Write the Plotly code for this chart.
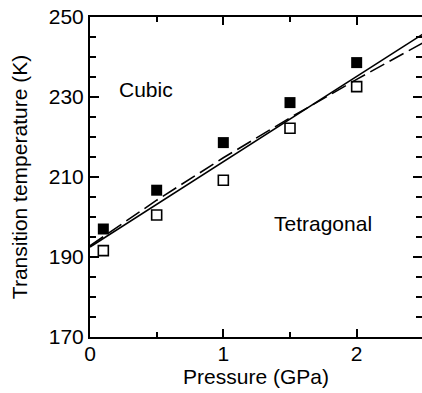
import plotly.graph_objects as go

# Data
pressure_pts = [0.1, 0.5, 1.0, 1.5, 2.0]
t_filled = [197.0, 206.7, 218.6, 228.6, 238.6]
t_open = [191.6, 200.5, 209.2, 222.2, 232.6]

solid_x = [0.0, 2.5]
solid_t = [192.5, 245.8]

dash_x = [0.0, 0.5, 1.0, 1.5, 2.0, 2.5]
dash_t = [192.8, 204.2, 214.8, 224.8, 234.4, 243.6]

x_ticks = [0, 1, 2]
y_ticks = [170, 190, 210, 230, 250]

FONT = "Liberation Sans, Arial, Helvetica, sans-serif"

fig = go.Figure()
fig.add_trace(go.Scatter(x=solid_x, y=solid_t, mode="lines",
                         line=dict(color="black", width=1.6), showlegend=False))
fig.add_trace(go.Scatter(x=dash_x, y=dash_t, mode="lines",
                         line=dict(color="black", width=1.6, dash="16px,6px"), showlegend=False))
fig.add_trace(go.Scatter(x=pressure_pts, y=t_filled, mode="markers",
                         marker=dict(symbol="square", size=11, color="black",
                                     line=dict(width=0)), showlegend=False))
fig.add_trace(go.Scatter(x=pressure_pts, y=t_open, mode="markers",
                         marker=dict(symbol="square-open", size=10, color="black",
                                     line=dict(width=1.6, color="black")), showlegend=False))

fig.add_annotation(x=0.42, y=231.9, text="Cubic", showarrow=False,
                   font=dict(size=21, color="black", family=FONT))
fig.add_annotation(x=1.744, y=198.4, text="Tetragonal", showarrow=False,
                   font=dict(size=21, color="black", family=FONT))

fig.update_layout(
    width=422, height=393,
    margin=dict(l=90, r=0, t=17, b=56),
    paper_bgcolor="white", plot_bgcolor="white",
    font=dict(family=FONT, size=21, color="black"),
    xaxis=dict(range=[0, 2.49], tickvals=x_ticks, ticktext=[str(v) for v in x_ticks],
               showline=True, linewidth=2, linecolor="black", mirror="ticks",
               ticks="inside", ticklen=8, tickwidth=1.5, tickcolor="black",
               minor=dict(dtick=0.5, tick0=0, ticks="inside", ticklen=5, tickwidth=1.5, tickcolor="black"),
               showgrid=False, zeroline=False,
               tickfont=dict(size=21, color="black"), ticklabelstandoff=-3,
               title=dict(text="Pressure (GPa)", font=dict(size=21, color="black"), standoff=2)),
    yaxis=dict(range=[170, 250], tickvals=y_ticks, ticktext=[str(v) for v in y_ticks],
               showline=True, linewidth=2, linecolor="black", mirror=False,
               ticks="inside", ticklen=9, tickwidth=1.5, tickcolor="black",
               minor=dict(dtick=5, tick0=170, ticks="inside", ticklen=6, tickwidth=1.5, tickcolor="black"),
               showgrid=False, zeroline=False,
               tickfont=dict(size=21, color="black"),
               title=dict(text="Transition temperature (K)", font=dict(size=21, color="black"), standoff=15)),
    yaxis2=dict(range=[170, 250], overlaying="y", side="right", tickvals=y_ticks,
                showticklabels=False, showline=False,
                ticks="inside", ticklen=9, tickwidth=1.5, tickcolor="black",
                minor=dict(dtick=5, tick0=170, ticks="inside", ticklen=6, tickwidth=1.5, tickcolor="black"),
                showgrid=False, zeroline=False),
)
# invisible trace to anchor yaxis2
fig.add_trace(go.Scatter(x=[0], y=[170], yaxis="y2", mode="markers",
                         marker=dict(opacity=0), showlegend=False, hoverinfo="skip"))

fig.write_html("out.html")
